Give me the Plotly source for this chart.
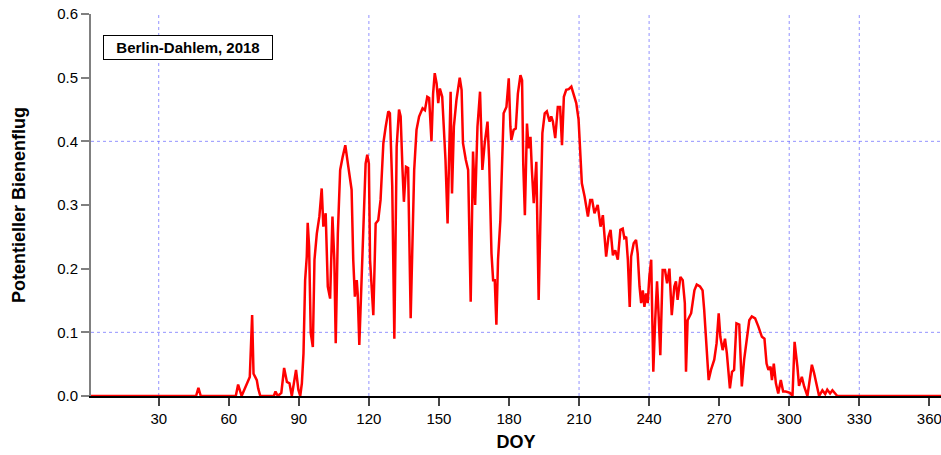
import plotly.graph_objects as go

# Day of year (DOY) and potential bee flight index, Berlin-Dahlem 2018
doy = [
    1, 46, 47, 48, 63, 64, 65.5, 67, 68, 69, 70, 70.6, 71.3, 72, 72.6, 73.5,
    79.3, 80, 81, 82.5, 83.7, 84.9, 86, 87, 88.8, 89.8, 90.6, 91.3, 92, 92.7,
    93.4, 93.8, 94.4, 95.1, 96, 96.7, 97.7, 98.8, 99.8, 100.5, 101.5, 102.4,
    103.4, 104.4, 105.2, 105.8, 106.7, 107.7, 108.8, 109.9, 111.2, 112.6,
    113.3, 114, 114.8, 115.2, 115.9, 116.6, 117.6, 118.6, 119.3, 120, 120.5,
    121.2, 121.9, 122.9, 124, 125, 126.2, 127.2, 128.3, 129, 130, 130.9,
    131.9, 132.9, 133.6, 134.4, 135, 135.9, 136.8, 137.9, 138.7, 139.4, 140.4,
    141.5, 143, 144, 145, 145.8, 146.8, 147.5, 148.2, 149, 149.7, 150.4,
    151.4, 152.1, 152.8, 153.7, 154.4, 155, 155.6, 156.4, 157.5, 158.9,
    159.7, 160.3, 161.5, 162.5, 163.6, 164.6, 165.5, 166.5, 167.6, 168.6,
    169.6, 170.8, 171.5, 172.5, 173.2, 173.9, 174.6, 175.3, 176.3, 177.2,
    177.7, 178.9, 179.9, 180.6, 181, 182, 182.9, 183.8, 184.9, 185.6, 186.1,
    186.8, 187.7, 188.4, 189.2, 189.8, 190.6, 191.7, 192.7, 193.4, 194.3,
    195.3, 196.2, 197.4, 198.1, 198.8, 199.8, 200.9, 201.9, 202.7, 203.5,
    204.5, 205.6, 206.7, 207.7, 208.8, 209.8, 210.6, 211.2, 212.4, 213.8,
    214.8, 215.6, 216.6, 218, 219.2, 220.2, 221.6, 222.6, 223.5, 224.5,
    225.5, 226.6, 227.7, 228.7, 229.4, 230.2, 230.9, 231.7, 232.3, 233.4,
    234.4, 235.1, 235.9, 236.6, 237.3, 238, 238.7, 239.4, 240.1, 240.9,
    241.3, 241.8, 242.6, 243.4, 244.1, 244.8, 245.8, 246.8, 247.7, 248.7,
    249.7, 250.8, 251.5, 252.2, 253.4, 254.4, 255.3, 255.8, 256.5, 258,
    259.4, 260.4, 261.8, 262.9, 263.6, 264.4, 265.5, 266.5, 267.9, 268.9,
    269.8, 270.5, 271.5, 272.5, 273.3, 274.6, 275.5, 276.4, 277.4, 278.6,
    279.7, 280.7, 281.7, 282.9, 284, 285.4, 286.8, 288.3, 289.4, 290.3,
    291.1, 292, 292.6, 293.4, 294.3, 295.3, 296.4, 297.4, 298.5, 300.3,
    301.4, 302.3, 303.5, 304.2, 305.4, 306.4, 307.8, 309.7, 310.6, 312,
    312.8, 314.2, 315.4, 316.3, 317.5, 318.5, 319.6, 320.6, 365,
]
bienenflug = [
    0, 0, 0.013, 0, 0, 0.018, 0, 0.012, 0.02, 0.03, 0.127, 0.035, 0.03, 0.025, 0.012, 0,
    0, 0.007, 0, 0.005, 0.044, 0.022, 0.02, 0, 0.041, 0.01, 0, 0.02, 0.067, 0.182,
    0.219, 0.272, 0.235, 0.099, 0.077, 0.214, 0.255, 0.282, 0.326, 0.266, 0.287, 0.172,
    0.153, 0.282, 0.214, 0.083, 0.255, 0.355, 0.376, 0.394, 0.36, 0.324,
    0.214, 0.156, 0.182, 0.161, 0.08, 0.151, 0.282, 0.365, 0.379, 0.365, 0.214,
    0.166, 0.127, 0.271, 0.276, 0.308, 0.397, 0.423, 0.447, 0.444, 0.33, 0.09,
    0.392, 0.45, 0.439, 0.355, 0.305, 0.36, 0.358, 0.122, 0.276, 0.355, 0.418,
    0.439, 0.452, 0.449, 0.47, 0.468, 0.4, 0.475, 0.507, 0.491, 0.46, 0.483,
    0.47, 0.418, 0.371, 0.271, 0.371, 0.478, 0.318, 0.423, 0.465, 0.5,
    0.481, 0.397, 0.371, 0.355, 0.148, 0.384, 0.3, 0.423, 0.478, 0.355,
    0.397, 0.431, 0.371, 0.224, 0.182, 0.182, 0.112, 0.214, 0.276, 0.371,
    0.444, 0.454, 0.499, 0.423, 0.402, 0.418, 0.42, 0.475, 0.504, 0.496, 0.365,
    0.284, 0.428, 0.389, 0.407, 0.355, 0.303, 0.368, 0.151, 0.266, 0.413,
    0.444, 0.447, 0.431, 0.439, 0.431, 0.405, 0.454, 0.454, 0.394, 0.47,
    0.481, 0.482, 0.486, 0.475, 0.46, 0.434, 0.386, 0.334, 0.313, 0.282,
    0.308, 0.308, 0.287, 0.3, 0.266, 0.284, 0.219, 0.25, 0.261, 0.221,
    0.229, 0.214, 0.261, 0.263, 0.248, 0.25, 0.214, 0.14, 0.219, 0.24,
    0.245, 0.224, 0.172, 0.146, 0.166, 0.14, 0.161, 0.146, 0.187, 0.214,
    0.135, 0.038, 0.119, 0.18, 0.125, 0.064, 0.198, 0.198, 0.177, 0.2,
    0.127, 0.172, 0.18, 0.151, 0.187, 0.182, 0.146, 0.038, 0.119, 0.13,
    0.166, 0.175, 0.172, 0.166, 0.135, 0.083, 0.025, 0.041, 0.057, 0.083,
    0.13, 0.093, 0.072, 0.09, 0.067, 0.012, 0.038, 0.041, 0.114, 0.112,
    0.015, 0.057, 0.083, 0.119, 0.125, 0.122, 0.109, 0.093, 0.09, 0.051,
    0.041, 0.046, 0.025, 0.051, 0.02, 0.004, 0.025, 0.007, 0.007, 0.005,
    0, 0.085, 0.046, 0.016, 0.03, 0.015, 0, 0.049, 0.037, 0.013,
    0, 0.009, 0.003, 0.01, 0.004, 0.009, 0.005, 0, 0,
]

x_ticks = [30, 60, 90, 120, 150, 180, 210, 240, 270, 300, 330, 360]
y_ticks = [0.0, 0.1, 0.2, 0.3, 0.4, 0.5, 0.6]
x_grid = [30, 120, 210, 240, 300, 330]
y_grid = [0.1, 0.4]

FONT = "Liberation Sans, Arial, sans-serif"
GRID = dict(color="rgba(100,100,255,0.7)", width=1, dash="dot")

fig = go.Figure()
fig.add_trace(go.Scatter(
    x=doy, y=bienenflug, mode="lines",
    line=dict(color="#ff0000", width=2.5),
    cliponaxis=False, showlegend=False,
))

shapes = []
for gx in x_grid:
    shapes.append(dict(type="line", xref="x", yref="paper", x0=gx, x1=gx, y0=0, y1=1,
                       line=GRID, layer="below"))
for gy in y_grid:
    shapes.append(dict(type="line", xref="paper", yref="y", x0=0, x1=1, y0=gy, y1=gy,
                       line=GRID, layer="below"))

fig.update_layout(
    width=941, height=455,
    margin=dict(l=91, r=0, t=14, b=59),
    paper_bgcolor="white", plot_bgcolor="white",
    font=dict(family=FONT, color="black"),
    shapes=shapes,
    annotations=[dict(
        text="<b>Berlin-Dahlem, 2018</b>",
        xref="paper", yref="paper", x=0.114, y=0.911,
        xanchor="center", yanchor="middle", showarrow=False,
        font=dict(family=FONT, size=15, color="black"),
        bordercolor="black", borderwidth=1, borderpad=3, bgcolor="white",
        width=162, height=17,
    )],
    xaxis=dict(
        range=[1, 365], tickvals=x_ticks, ticktext=[str(v) for v in x_ticks],
        showgrid=False, zeroline=False,
        showline=True, linecolor="black", linewidth=2,
        ticks="outside", ticklen=8, tickwidth=1.5, tickcolor="#444444",
        tickfont=dict(size=15), layer="below traces", ticklabeloverflow="allow",
        title=dict(text="<b>DOY</b>", font=dict(size=18), standoff=9),
    ),
    yaxis=dict(
        range=[0, 0.6], tickvals=y_ticks, tickformat=".1f",
        showgrid=False, zeroline=False,
        showline=True, linecolor="#808080", linewidth=2,
        ticks="outside", ticklen=8, tickwidth=1.5, tickcolor="#808080",
        tickfont=dict(size=15), layer="below traces",
        title=dict(text="<b>Potentieller Bienenflug</b>", font=dict(size=18), standoff=27),
    ),
)

fig.write_html("out.html")
